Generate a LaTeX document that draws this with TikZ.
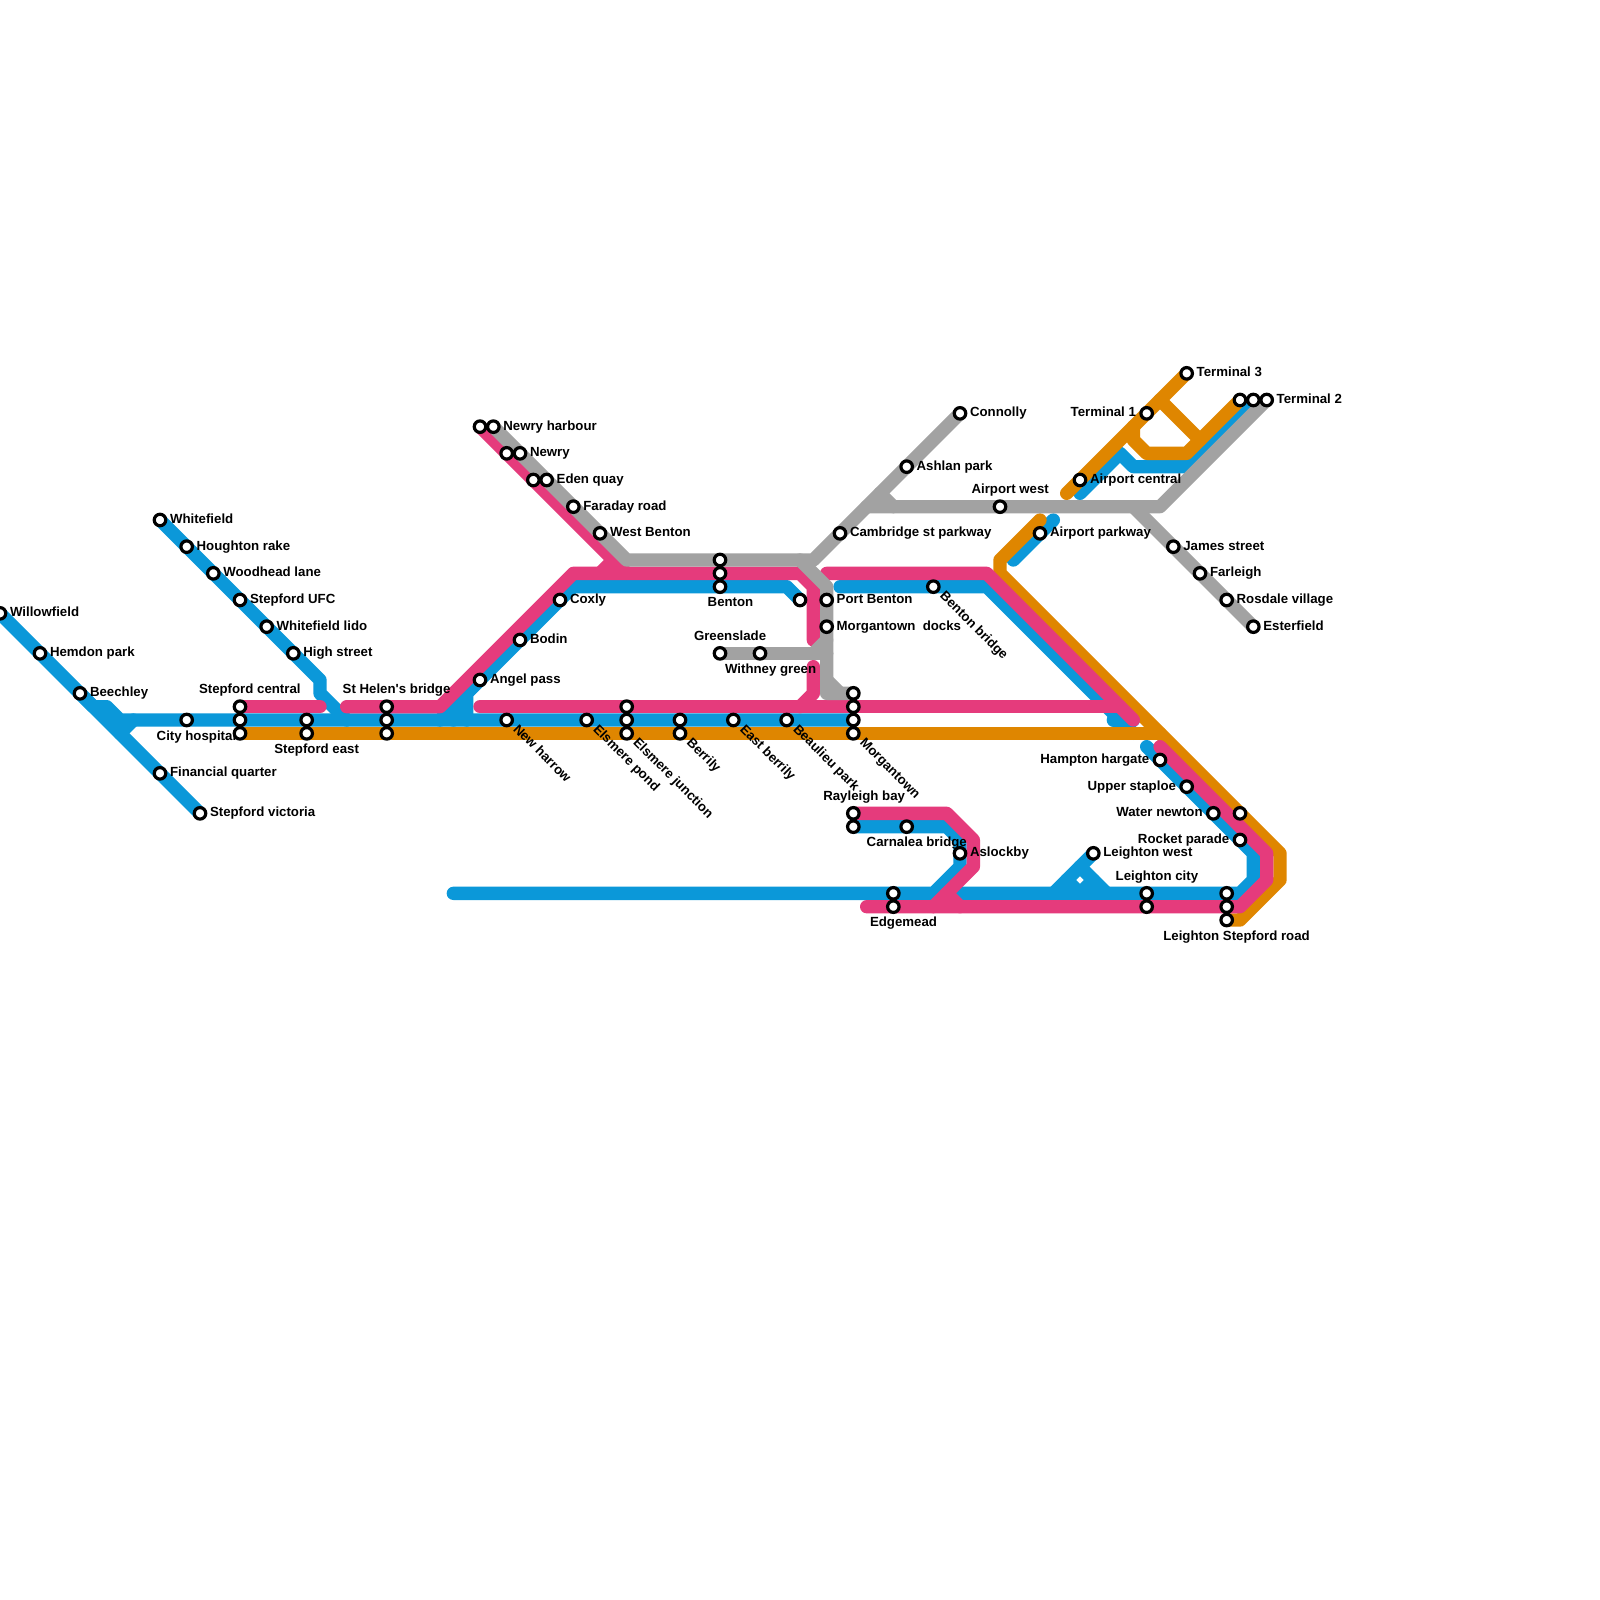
\documentclass[tikz,border=0pt]{standalone}
\usepackage{fontspec}
\usetikzlibrary{calc}
\newfontfamily\lblfont{Liberation Sans}
\definecolor{lblue}{HTML}{0B98D9}
\definecolor{lpink}{HTML}{E53B7C}
\definecolor{lorange}{HTML}{DF8600}
\definecolor{lgray}{HTML}{A2A2A2}
\pgfdeclarelayer{lines}
\pgfdeclarelayer{labels}
\pgfsetlayers{lines,labels,main}
\tikzset{
  ln/.style={line width=13.33pt,line cap=round,line join=round},
  bl/.style={ln,draw=lblue},
  pk/.style={ln,draw=lpink},
  og/.style={ln,draw=lorange},
  gy/.style={ln,draw=lgray},
  stn/.style={circle,draw=black,fill=white,line width=3.2pt,minimum size=11.5pt,inner sep=0pt,outer sep=0pt},
  lbl/.style={inner sep=0pt,outer sep=0pt,text=black,font=\lblfont\bfseries\fontsize{13.25}{15}\selectfont}
}
\newcommand\stn[3]{\node[stn] (#1) at (#2,#3) {};}
\newcommand\labr[2]{\node[lbl,anchor=base west] at ($(#1.center)+(10pt,-3.5pt)$) {#2};}
\newcommand\labl[2]{\node[lbl,anchor=base east] at ($(#1.center)+(-10.7pt,-3.5pt)$) {#2};}
\newcommand\labd[2]{\node[lbl,anchor=base west,rotate=-45] at ($(#1.center)+(6pt,-10pt)$) {#2};}
\newcommand\labat[3]{\node[lbl,anchor=base west] at (#1pt,-#2pt) {#3};}
\begin{document}
\begin{tikzpicture}[x=13.3333pt,y=-13.3333pt]
\useasboundingbox (0,0) rectangle (120,120);
% stations
\stn{whitefield}{12}{39}\stn{houghton}{14}{41}\stn{woodhead}{16}{43}\stn{ufc}{18}{45}\stn{lido}{20}{47}\stn{high}{22}{49}
\stn{willowfield}{0}{46}\stn{hemdon}{3}{49}\stn{beechley}{6}{52}\stn{financial}{12}{58}\stn{victoria}{15}{61}
\stn{city}{14}{54}\stn{centralA}{18}{53}\stn{centralB}{18}{54}\stn{centralC}{18}{55}
\stn{eastA}{23}{54}\stn{eastB}{23}{55}
\stn{helenA}{29}{53}\stn{helenB}{29}{54}\stn{helenC}{29}{55}
\stn{angel}{36}{51}\stn{bodin}{39}{48}\stn{coxly}{42}{45}
\stn{newryhA}{36}{32}\stn{newryhB}{37}{32}\stn{newryA}{38}{34}\stn{newryB}{39}{34}\stn{edenA}{40}{36}\stn{edenB}{41}{36}
\stn{faraday}{43}{38}\stn{westbenton}{45}{40}
\stn{bentonA}{54}{42}\stn{bentonB}{54}{43}\stn{bentonC}{54}{44}
\stn{bentonD}{60}{45}\stn{portbenton}{62}{45}\stn{docks}{62}{47}
\stn{greenslade}{54}{49}\stn{withney}{57}{49}
\stn{harrow}{38}{54}\stn{pond}{44}{54}
\stn{junctionA}{47}{53}\stn{junctionB}{47}{54}\stn{junctionC}{47}{55}
\stn{berrilyA}{51}{54}\stn{berrilyB}{51}{55}\stn{eastberrily}{55}{54}\stn{beaulieu}{59}{54}
\stn{morganA}{64}{52}\stn{morganB}{64}{53}\stn{morganC}{64}{54}\stn{morganD}{64}{55}
\stn{bentonbridge}{70}{44}
\stn{rayleighA}{64}{61}\stn{rayleighB}{64}{62}\stn{carnalea}{68}{62}\stn{aslockby}{72}{64}
\stn{edgemeadA}{67}{67}\stn{edgemeadB}{67}{68}
\stn{cambridge}{63}{40}\stn{ashlan}{68}{35}\stn{connolly}{72}{31}
\stn{airportwest}{75}{38}\stn{parkway}{78}{40}\stn{airportcentral}{81}{36}
\stn{terminalone}{86}{31}\stn{terminalthree}{89}{28}
\stn{twoA}{93}{30}\stn{twoB}{94}{30}\stn{twoC}{95}{30}
\stn{james}{88}{41}\stn{farleigh}{90}{43}\stn{rosdale}{92}{45}\stn{esterfield}{94}{47}
\stn{hampton}{87}{57}\stn{staploe}{89}{59}\stn{water}{91}{61}\stn{waterB}{93}{61}\stn{rocket}{93}{63}
\stn{leightonwest}{82}{64}\stn{cityA}{86}{67}\stn{cityB}{86}{68}
\stn{roadA}{92}{67}\stn{roadB}{92}{68}\stn{roadC}{92}{69}
% free ends of the lines
\coordinate (bstart) at (34,67);
\coordinate (bupper) at (63,44);
\coordinate (pupper) at (62,43);
\coordinate (ptrunk) at (36,53);
\coordinate (ohigh) at (78,39);
\coordinate (olow) at (80,37);
\begin{pgfonlayer}{lines}
\fill[white] (0,0) rectangle (120,120);
% blue
\draw[bl] (whitefield.center) -- (24,51) -- (24,52) -- (26,54);
\draw[bl] (willowfield.center) -- (victoria.center);
\draw[bl] (beechley.center) -- (7,53) -- (8,53) -- (9,54) -- (morganC.center);
\draw[bl] (9,55) -- (10,54);
\draw[bl] (33,54) -- (43,44) -- (59,44) -- (bentonD.center);
\draw[bl] (angel.center) -- (35,52) -- (35,54);
\draw[bl] (34,53) -- (34,54);
\draw[bl] (bupper) -- (74,44) -- (84,54) -- (85,55);
\draw[bl] (83.5,54) -- (85,54);
\draw[bl] (rayleighB.center) -- (71,62) -- (72,63) -- (72,65) -- (70,67) -- (bstart);
\draw[bl] (72,67) -- (93,67) -- (94,66) -- (94,64) -- (86,56);
\draw[bl] (leightonwest.center) -- (79,67);
\draw[bl] (81,65) -- (83,67);
\draw[bl] (80,66) -- (81,67) -- (82,66);
\draw[bl] (81,37) -- (84,34) -- (85,35) -- (89,35) -- (twoB.center);
\draw[bl] (79,39) -- (76,42);
% orange
\draw[og] (centralC.center) -- (87,55);
\draw[og] (ohigh) -- (75,42) -- (75,43) -- (96,64) -- (96,66) -- (93,69) -- (roadC.center);
\draw[og] (terminalthree.center) -- (olow);
\draw[og] (85,32) -- (85,33) -- (86,34) -- (89,34) -- (twoA.center);
\draw[og] (87,30) -- (90,33);
% pink
\draw[pk] (centralA.center) -- (24,53);
\draw[pk] (26,53) -- (33,53) -- (43,43) -- (60,43) -- (61,44) -- (61,48);
\draw[pk] (newryhA.center) -- (47,43);
\draw[pk] (45,43) -- (46,42);
\draw[pk] (61,50) -- (61,52) -- (60,53);
\draw[pk] (ptrunk) -- (84,53);
\draw[pk] (pupper) -- (74,43) -- (85,54);
\draw[pk] (87,56) -- (95,64) -- (95,66) -- (93,68) -- (65,68);
\draw[pk] (rayleighA.center) -- (71,61) -- (73,63) -- (73,65) -- (70,68);
\draw[pk] (71,67) -- (72,68);
% gray
\draw[gy] (newryhB.center) -- (47,42) -- (61,42) -- (connolly.center);
\draw[gy] (60,42) -- (62,44) -- (62,52) -- (morganA.center);
\draw[gy] (62,51) -- (63,52);
\draw[gy] (greenslade.center) -- (62,49);
\draw[gy] (61,49) -- (62,48);
\draw[gy] (65,38) -- (87,38) -- (twoC.center);
\draw[gy] (66,37) -- (67,38);
\draw[gy] (85,38) -- (esterfield.center);
\end{pgfonlayer}
\begin{pgfonlayer}{labels}
\labr{whitefield}{Whitefield}\labr{houghton}{Houghton rake}\labr{woodhead}{Woodhead lane}\labr{ufc}{Stepford UFC}
\labr{lido}{Whitefield lido}\labr{high}{High street}\labr{willowfield}{Willowfield}\labr{hemdon}{Hemdon park}
\labr{beechley}{Beechley}\labr{financial}{Financial quarter}\labr{victoria}{Stepford victoria}
\labat{199}{693}{Stepford central}
\labat{156.7}{740}{City hospital}
\labat{274.3}{753.5}{Stepford east}
\labat{342.7}{693}{St Helen's bridge}
\labr{newryhB}{Newry harbour}\labr{newryB}{Newry}\labr{edenB}{Eden quay}\labr{faraday}{Faraday road}\labr{westbenton}{West Benton}
\labr{coxly}{Coxly}\labr{bodin}{Bodin}\labr{angel}{Angel pass}
\labat{707.7}{606.5}{Benton}
\labat{694}{640}{Greenslade}
\labat{725}{673}{Withney green}
\labr{portbenton}{Port Benton}\labr{docks}{Morgantown\ \ docks}
\labd{harrow}{New harrow}\labd{pond}{Elsmere pond}\labd{junctionC}{Elsmere junction}\labd{berrilyB}{Berrily}
\labd{eastberrily}{East berrily}\labd{beaulieu}{Beaulieu park}\labd{morganD}{Morgantown}\labd{bentonbridge}{Benton bridge}
\labat{823.3}{800}{Rayleigh bay}
\labat{866.7}{846}{Carnalea bridge}
\labr{aslockby}{Aslockby}
\labat{870}{926.5}{Edgemead}
\labr{cambridge}{Cambridge st parkway}\labr{ashlan}{Ashlan park}\labr{connolly}{Connolly}
\labr{terminalthree}{Terminal 3}\labr{twoC}{Terminal 2}\labl{terminalone}{Terminal 1}
\labr{airportcentral}{Airport central}\labr{parkway}{Airport parkway}
\labat{971.5}{493}{Airport west}
\labr{james}{James street}\labr{farleigh}{Farleigh}\labr{rosdale}{Rosdale village}\labr{esterfield}{Esterfield}
\labl{hampton}{Hampton hargate}\labl{staploe}{Upper staploe}\labl{water}{Water newton}\labl{rocket}{Rocket parade}
\labr{leightonwest}{Leighton west}
\labat{1115.7}{880}{Leighton city}
\labat{1163.3}{940}{Leighton Stepford road}
\end{pgfonlayer}
\end{tikzpicture}
\end{document}
